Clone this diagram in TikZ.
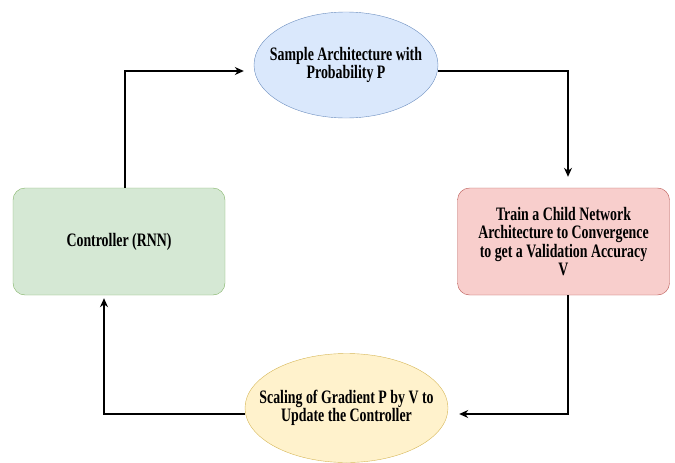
\documentclass[tikz,border=0pt]{standalone}
\usepackage{fontspec}
\setmainfont{Liberation Serif}[FakeStretch=0.73]
\usepackage{tikz}
\usetikzlibrary{shapes,arrows.meta,positioning,calc}
\definecolor{blueFill}{HTML}{DAE8FC}
\definecolor{blueLine}{HTML}{6C8EBF}
\definecolor{greenFill}{HTML}{D5E8D4}
\definecolor{greenLine}{HTML}{82B366}
\definecolor{redFill}{HTML}{F8CECC}
\definecolor{redLine}{HTML}{B85450}
\definecolor{yellowFill}{HTML}{FFF2CC}
\definecolor{yellowLine}{HTML}{D6B656}

\begin{document}
\begin{tikzpicture}[x=1pt,y=-1pt,>={Stealth[length=9pt,width=8pt]},
  every node/.style={align=center,font=\fontsize{19}{18.6}\selectfont\bfseries},
  oval/.style={draw,ellipse,inner xsep=-25pt,inner ysep=0pt},
  box/.style={draw,rectangle,rounded corners=12pt,minimum width=212pt,minimum height=107pt},
  link/.style={draw=black,line width=1.1pt}]
\useasboundingbox (0,0) rectangle (675,463);
\node[oval,fill=blueFill,draw=blueLine,minimum width=184pt,minimum height=106pt] (sample) at (346,65) {Sample Architecture with\\Probability P};
\node[box,fill=redFill,draw=redLine] (train) at (563.5,241.5) {Train a Child Network\\Architecture to Convergence\\to get a Validation Accuracy\\V};
\node[box,fill=greenFill,draw=greenLine] (ctrl) at (119,241.5) {Controller (RNN)};
\node[oval,fill=yellowFill,draw=yellowLine,minimum width=203pt,minimum height=109pt] (scaling) at (346.5,408) {Scaling of Gradient P by V to\\Update the Controller};
% loop of arrows
\path[link,->] ([xshift=6pt]ctrl.north) |- ([xshift=-10pt,yshift=-6pt]sample.west);
\path[link,->] ([yshift=-6pt]sample.east) -| ([xshift=4.5pt,yshift=11pt]train.north);
\path[link,->] ([xshift=4.5pt]train.south) |- ([xshift=11pt,yshift=-6pt]scaling.east);
\path[link,->] ([yshift=-6pt]scaling.west) -| ([xshift=-15pt,yshift=-3pt]ctrl.south);
\end{tikzpicture}
\end{document}
